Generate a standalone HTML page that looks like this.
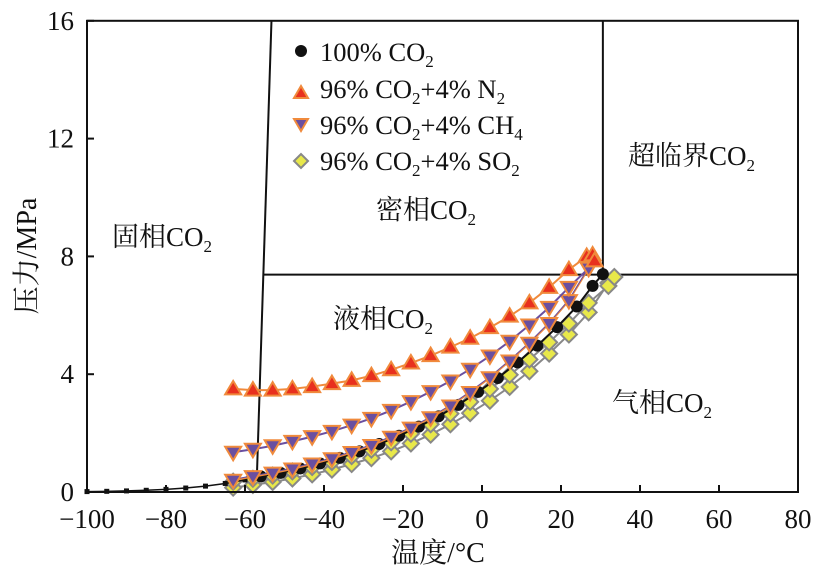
<!DOCTYPE html>
<html><head><meta charset="utf-8"><style>
body{margin:0;background:#fff}
svg{display:block}
text{font-family:"Liberation Serif","Noto Serif CJK SC","Noto Sans CJK SC",serif;fill:#111}
</style></head><body>
<svg id="chart" width="827" height="576" viewBox="0 0 827 576" xmlns="http://www.w3.org/2000/svg">
<g id="regions"></g>
<g id="series"></g>
<g id="axes"></g>
<g id="legend">
  <circle cx="301" cy="51" r="6" fill="#111"/>
  <text x="320" y="61" font-size="26.5">100% CO<tspan font-size="17" dy="6">2</tspan></text>
  <polygon points="294,98 308,98 301,86" fill="#e8301e" stroke="#f08a3c" stroke-width="2"/>
  <text x="320" y="98" font-size="26.5">96% CO<tspan font-size="17" dy="6">2</tspan><tspan dy="-6">+4% N</tspan><tspan font-size="17" dy="6">2</tspan></text>
  <polygon points="294,119 308,119 301,131" fill="#6a4fa0" stroke="#f08a3c" stroke-width="2"/>
  <text x="320" y="134" font-size="26.5">96% CO<tspan font-size="17" dy="6">2</tspan><tspan dy="-6">+4% CH</tspan><tspan font-size="17" dy="6">4</tspan></text>
  <polygon points="294,161 301,154 308,161 301,168" fill="#e8e84a" stroke="#888" stroke-width="2"/>
  <text x="320" y="170" font-size="26.5">96% CO<tspan font-size="17" dy="6">2</tspan><tspan dy="-6">+4% SO</tspan><tspan font-size="17" dy="6">2</tspan></text>
</g>
<text x="112" y="246" font-size="27">固相CO<tspan font-size="17" dy="6">2</tspan></text>
<text x="376" y="219" font-size="27">密相CO<tspan font-size="17" dy="6">2</tspan></text>
<text x="628" y="165" font-size="27">超临界CO<tspan font-size="17" dy="6">2</tspan></text>
<text x="333" y="328" font-size="27">液相CO<tspan font-size="17" dy="6">2</tspan></text>
<text x="612" y="412" font-size="27">气相CO<tspan font-size="17" dy="6">2</tspan></text>
<text x="438" y="562" font-size="28" text-anchor="middle">温度/°C</text>
<text transform="translate(36,256) rotate(-90)" font-size="28" text-anchor="middle">压力/MPa</text>
</svg>
<script>
const xTicks=[-100,-80,-60,-40,-20,0,20,40,60,80];
const yTicks=[0,4,8,12,16];
const subT=[-100,-95,-90,-85,-80,-75,-70,-65,-60];
const subP=[0.014,0.023,0.037,0.058,0.089,0.135,0.2,0.29,0.41];
const co2T=[-56,-51,-46,-41,-36,-31,-26,-21,-16,-11,-6,-1,4,9,14,19,24,28,30.6];
const co2P=[0.53,0.65,0.8,0.97,1.16,1.38,1.63,1.91,2.22,2.57,2.96,3.4,3.87,4.4,4.97,5.6,6.3,7.0,7.4];
const n2T=[-63,-58,-53,-48,-43,-38,-33,-28,-23,-18,-13,-8,-3,2,7,12,17,22,26.5,28,28.5];
const n2P=[3.5,3.46,3.46,3.5,3.58,3.68,3.79,3.95,4.15,4.38,4.63,4.92,5.22,5.58,5.97,6.42,6.95,7.55,8.0,8.05,7.85];
const n2dT=[-63,-58,-53,-48,-43,-38,-33,-28,-23,-18,-13,-8,-3,2,7,12,17,22,27];
const n2dP=[0.4,0.52,0.64,0.78,0.95,1.13,1.34,1.58,1.86,2.17,2.52,2.92,3.38,3.88,4.45,5.05,5.72,6.5,7.6];
const ch4T=[-63,-58,-53,-48,-43,-38,-33,-28,-23,-18,-13,-8,-3,2,7,12,17,22,27];
const ch4P=[1.35,1.45,1.57,1.72,1.88,2.06,2.27,2.5,2.77,3.07,3.41,3.77,4.17,4.62,5.12,5.67,6.27,6.95,7.6];
const so2aT=[-63,-58,-53,-48,-43,-38,-33,-28,-23,-18,-13,-8,-3,2,7,12,17,22,27,32,33.5];
const so2aP=[0.35,0.45,0.56,0.7,0.85,1.02,1.22,1.44,1.69,1.98,2.3,2.66,3.06,3.5,3.98,4.5,5.08,5.72,6.42,7.0,7.3];
const so2bT=[-63,-58,-53,-48,-43,-38,-33,-28,-23,-18,-13,-8,-3,2,7,12,17,22,27,32];
const so2bP=[0.15,0.24,0.34,0.46,0.6,0.76,0.95,1.15,1.38,1.65,1.95,2.3,2.68,3.1,3.57,4.1,4.7,5.35,6.1,7.1];
const NS='http://www.w3.org/2000/svg';
const X=t=>87+(t+100)*3.95;
const Y=p=>492-p*29.45;
function el(tag,attrs,parent){const e=document.createElementNS(NS,tag);for(const k in attrs)e.setAttribute(k,attrs[k]);parent.appendChild(e);return e;}
const reg=document.getElementById('regions'),ser=document.getElementById('series'),ax=document.getElementById('axes');
let l;
l=el('line',{x1:X(-53.3),y1:Y(16),x2:X(-57),y2:Y(0.5),stroke:'#111','stroke-width':2},reg);

l=el('line',{x1:X(-55.5),y1:Y(7.38),x2:X(80),y2:Y(7.38),stroke:'#111','stroke-width':2},reg);

l=el('line',{x1:X(30.6),y1:Y(16),x2:X(30.6),y2:Y(7.38),stroke:'#111','stroke-width':2},reg);

function pts(T,P){return T.map((t,i)=>X(t)+','+Y(P[i])).join(' ');}
function line(T,P,color,w,name){const e=el('polyline',{points:pts(T,P),fill:'none',stroke:color,'stroke-width':w},ser);}
function marker(type,x,y,fill,stroke,name){let e;
 if(type==='circle')e=el('circle',{cx:x,cy:y,r:6,fill:fill},ser);
 else if(type==='square')e=el('rect',{x:x-2.5,y:y-2.5,width:5,height:5,fill:fill},ser);
 else if(type==='up')e=el('polygon',{points:`${x-8},${y+5.5} ${x+8},${y+5.5} ${x},${y-8}`,fill:fill,stroke:stroke,'stroke-width':2},ser);
 else if(type==='down')e=el('polygon',{points:`${x-8},${y-5.5} ${x+8},${y-5.5} ${x},${y+8}`,fill:fill,stroke:stroke,'stroke-width':2},ser);
 else e=el('polygon',{points:`${x-8},${y} ${x},${y-8} ${x+8},${y} ${x},${y+8}`,fill:fill,stroke:stroke,'stroke-width':2},ser);
 }
line(so2bT,so2bP,'#888',2,'so2-dew-line');
so2bT.forEach((t,i)=>marker('diamond',X(t),Y(so2bP[i]),'#e8e84a','#888','so2-dew-point'));
line(so2aT,so2aP,'#888',2,'so2-bubble-line');
so2aT.forEach((t,i)=>marker('diamond',X(t),Y(so2aP[i]),'#e8e84a','#888','so2-bubble-point'));
line(subT,subP,'#111',1.5,'co2-sublimation-line');
subT.forEach((t,i)=>marker('square',X(t),Y(subP[i]),'#111','none','co2-sublimation-point'));
line(co2T,co2P,'#111',2,'co2-saturation-line');
co2T.forEach((t,i)=>marker('circle',X(t),Y(co2P[i]),'#111','none','co2-point'));
line(n2dT,n2dP,'#f08a3c',2,'n2-dew-line');
line(n2dT,n2dP.map(p=>p+0.03),'#6a4fa0',1,'ch4-dew-line');
n2dT.forEach((t,i)=>marker('down',X(t),Y(n2dP[i]),'#6a4fa0','#f08a3c','ch4-dew-point'));
line(ch4T,ch4P,'#6a4fa0',2,'ch4-bubble-line');
ch4T.forEach((t,i)=>marker('down',X(t),Y(ch4P[i]),'#6a4fa0','#f08a3c','ch4-point'));
line(n2T,n2P,'#f08a3c',2,'n2-bubble-line');
n2T.forEach((t,i)=>marker('up',X(t),Y(n2P[i]),'#e8301e','#f08a3c','n2-point'));
l=el('rect',{x:X(-100),y:Y(16),width:X(80)-X(-100),height:Y(0)-Y(16),fill:'none',stroke:'#111','stroke-width':2},ax);

xTicks.forEach(t=>{let e=el('line',{x1:X(t),y1:Y(0),x2:X(t),y2:Y(0)-7,stroke:'#111','stroke-width':2},ax);
 
 e=el('text',{x:X(t),y:528,'font-size':27,'text-anchor':'middle'},ax);e.textContent=(t<0?'\u2212'+(-t):t);
 });
yTicks.forEach(p=>{let e=el('line',{x1:X(-100),y1:Y(p),x2:X(-100)+7,y2:Y(p),stroke:'#111','stroke-width':2},ax);
 
 e=el('text',{x:74,y:Y(p)+9,'font-size':27,'text-anchor':'end'},ax);e.textContent=p;
 });
</script>
</body></html>
